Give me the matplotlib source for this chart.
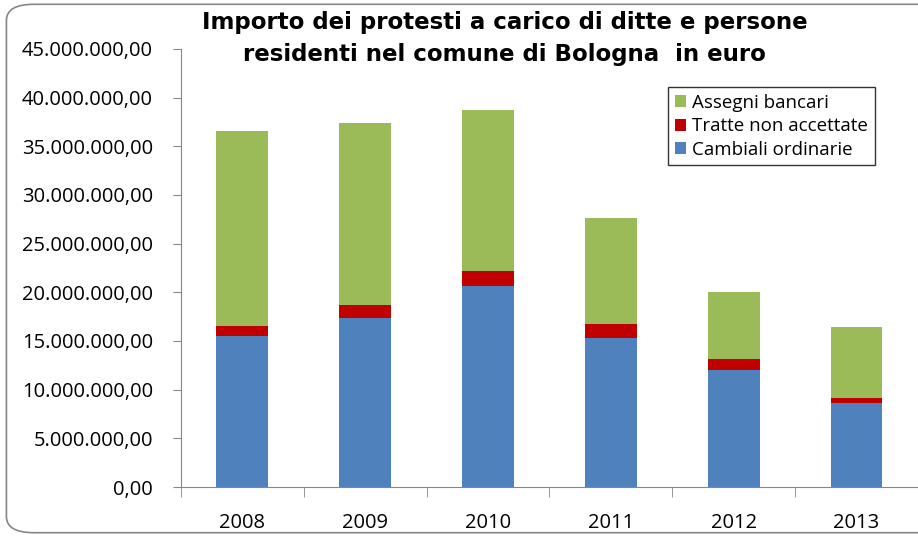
import numpy as np
import matplotlib
matplotlib.use('Agg')
import matplotlib.pyplot as plt
from matplotlib.patches import FancyBboxPatch
from matplotlib.ticker import FuncFormatter

# dati (euro)
anni = ['2008', '2009', '2010', '2011', '2012', '2013']
cambiali = [15470000, 17380000, 20640000, 15300000, 12000000, 8600000]
tratte = [1090000, 1310000, 1560000, 1470000, 1100000, 520000]
assegni = [20040000, 18710000, 16500000, 10830000, 6970000, 7310000]

c_blu = '#4F81BD'
c_rosso = '#C00000'
c_verde = '#9BBB59'
grigio = '#868686'

def fmt_it(v, pos):
    s = '{:,.2f}'.format(v)
    return s.replace(',', 'X').replace('.', ',').replace('X', '.')

fig = plt.figure(figsize=(9.18, 5.37), dpi=100)
ax = fig.add_axes([0.197, 0.093, 0.803, 0.816])

x = np.arange(len(anni))
w = 0.42
b1 = np.array(cambiali)
b2 = b1 + np.array(tratte)
ax.bar(x, cambiali, w, color=c_blu, label='Cambiali ordinarie')
ax.bar(x, tratte, w, bottom=b1, color=c_rosso, label='Tratte non accettate')
ax.bar(x, assegni, w, bottom=b2, color=c_verde, label='Assegni bancari')

ax.set_xlim(-0.5, 5.45)
ax.set_ylim(0, 45000000)
ax.set_yticks(np.arange(0, 45000001, 5000000))
ax.yaxis.set_major_formatter(FuncFormatter(fmt_it))
ax.set_xticks(x)
ax.set_xticklabels(anni)
ax.set_xticks(np.arange(-0.5, 5.6, 1), minor=True)
ax.tick_params(axis='x', which='major', length=0, pad=19)
ax.tick_params(axis='x', which='minor', length=7, color=grigio, direction='out')
ax.tick_params(axis='y', length=6, color=grigio, direction='out', pad=14)
for lab in ax.get_xticklabels() + ax.get_yticklabels():
    lab.set_fontfamily('Open Sans')
    lab.set_fontsize(14.5)

for s in ['top', 'right']:
    ax.spines[s].set_visible(False)
ax.spines['left'].set_color(grigio)
ax.spines['bottom'].set_color(grigio)

h, l = ax.get_legend_handles_labels()
leg = ax.legend(h[::-1], l[::-1], loc='upper left', bbox_to_anchor=(0.661, 0.913),
                prop={'family': 'Open Sans', 'size': 13.5}, frameon=True, fancybox=False,
                handlelength=0.6, handleheight=0.6, handletextpad=0.35,
                borderpad=0.35, labelspacing=0.3, borderaxespad=0)
leg.get_frame().set_edgecolor('black')
leg.get_frame().set_linewidth(1.0)

fig.text(0.55, 0.98, 'Importo dei protesti a carico di ditte e persone\nresidenti nel comune di Bologna  in euro',
         ha='center', va='top', fontsize=16.5, fontweight='bold',
         family='DejaVu Sans', linespacing=1.5)

# bordo arrotondato
bordo = FancyBboxPatch((0.007, 0.008), 1.05, 0.984, boxstyle='round,pad=0,rounding_size=0.03',
                       transform=fig.transFigure, fill=False, edgecolor=grigio,
                       linewidth=1.2, clip_on=False)
fig.patches.append(bordo)

fig.savefig('out.png', dpi=100)
